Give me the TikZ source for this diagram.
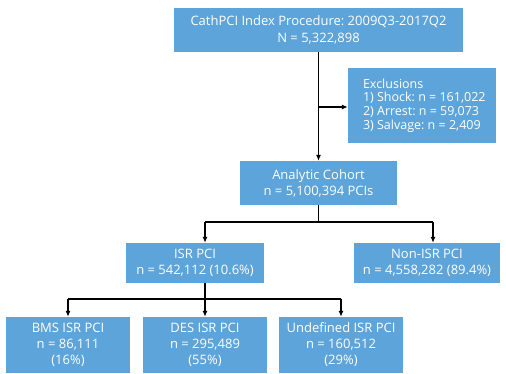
\documentclass[tikz,border=0pt]{standalone}
\usepackage{fontspec}
\setmainfont{Open Sans}
\usetikzlibrary{arrows.meta}
\definecolor{boxblue}{RGB}{93,164,219}
\frenchspacing
\tikzset{
  box/.style={fill=boxblue, text=white, align=center, inner sep=0pt,
    font=\fontsize{13}{16}\selectfont\frenchspacing},
  boxtext/.style={text=white, align=left, inner sep=0pt,
    font=\fontsize{12.5}{13.6}\selectfont\frenchspacing},
  conn/.style={line width=1.1pt, black},
  arr/.style={conn, -{Latex[length=6pt,width=5pt]}}
}
\begin{document}
\begin{tikzpicture}[x=1pt,y=-1pt]
\useasboundingbox (0,0) rectangle (506,373);
\node[box, minimum width=289pt, minimum height=44pt, font=\fontsize{13}{16.5}\selectfont\frenchspacing] (top) at (318.5,30) {CathPCI Index Procedure: 2009Q3-2017Q2\\N = 5,322,898};
\node[box, minimum width=148pt, minimum height=75pt] (excl) at (422,105.5) {};
\node[boxtext, anchor=west] (excltext) at ([xshift=15pt]excl.west) {Exclusions\\1) Shock: n = 161,022\\2) Arrest: n = 59,073\\3) Salvage: n = 2,409};
\node[box, minimum width=157pt, minimum height=44pt] (cohort) at (318.5,183) {Analytic Cohort\\n = 5,100,394 PCIs};
\node[box, minimum width=138pt, minimum height=40pt] (isr) at (195,263) {ISR PCI\\n = 542,112 (10.6\%)};
\node[box, minimum width=146pt, minimum height=40pt] (non) at (427,263) {Non-ISR PCI\\n = 4,558,282 (89.4\%)};
\node[box, minimum width=124pt, minimum height=56pt] (bms) at (68,345) {BMS ISR PCI\\n = 86,111\\(16\%)};
\node[box, minimum width=124pt, minimum height=56pt] (des) at (205,345) {DES ISR PCI\\n = 295,489\\(55\%)};
\node[box, minimum width=124pt, minimum height=56pt] (und) at (341,345) {Undefined ISR PCI\\n = 160,512\\(29\%)};
% connectors
\coordinate (ex) at (318.5,107);
\draw[arr] (top.south) -- (cohort.north);
\draw[arr] (ex) -- (ex -| excl.west);
\coordinate (c1) at (318.5,222);
\coordinate (cl) at (205,222);
\coordinate (cr) at (433,222);
\draw[conn] (cohort.south) -- (c1);
\draw[conn] (cl) -- (cr);
\draw[arr] (cl) -- (cl |- isr.north);
\draw[arr] (cr) -- (cr |- non.north);
\coordinate (d1) at (205,299);
\coordinate (dl) at (68,299);
\coordinate (dr) at (341,299);
\draw[conn] (d1 |- isr.south) -- (d1);
\draw[conn] (dl) -- (dr);
\draw[arr] (dl) -- (bms.north);
\draw[arr] (d1) -- (des.north);
\draw[arr] (dr) -- (und.north);
\end{tikzpicture}
\end{document}
